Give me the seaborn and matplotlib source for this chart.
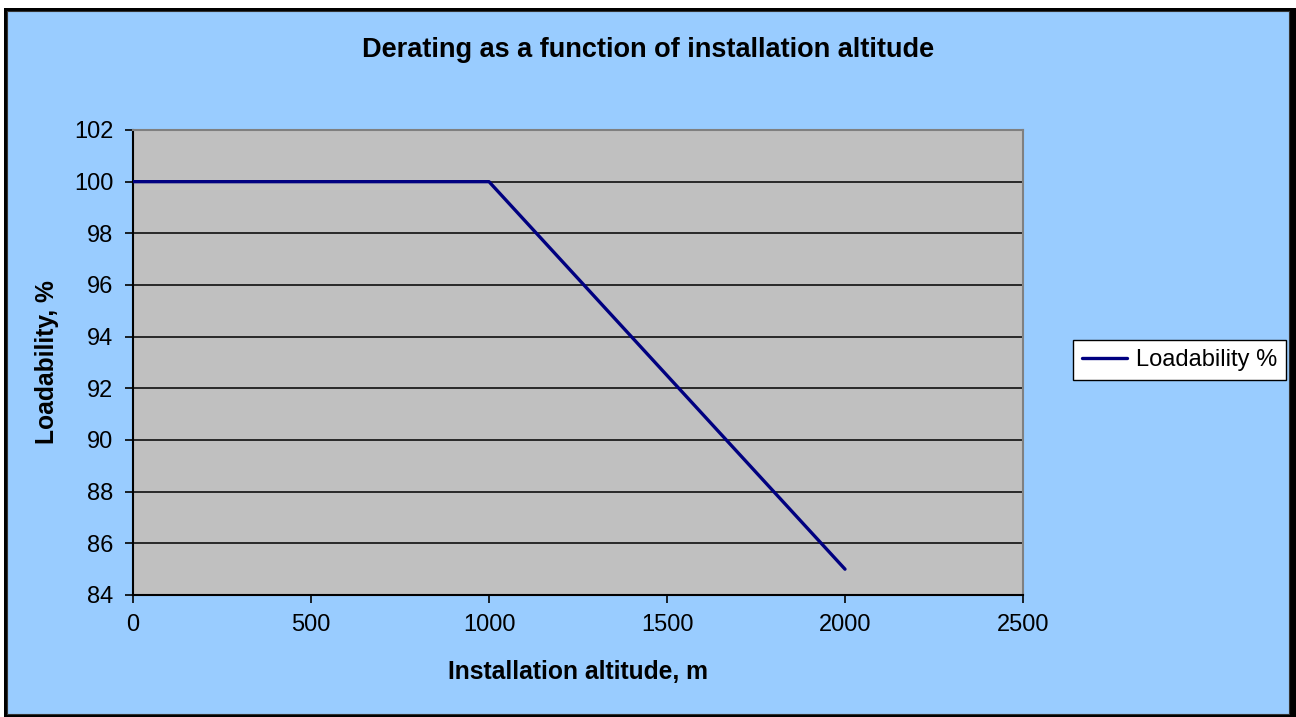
import pandas as pd
import matplotlib.pyplot as plt
import seaborn as sns
from matplotlib.patches import Rectangle

# datos de la curva de derating
altitud = [0, 1000, 2000]
carga = [100, 100, 85]
serie = 'Loadability %'

x_ticks = [0, 500, 1000, 1500, 2000, 2500]
y_ticks = [84, 86, 88, 90, 92, 94, 96, 98, 100, 102]

df = pd.DataFrame({'altitud': altitud, 'carga': carga, 'serie': serie})

sns.set_style('white')
plt.rcParams['font.family'] = ['Liberation Sans', 'DejaVu Sans']
plt.rcParams['text.color'] = 'black'
plt.rcParams['axes.labelcolor'] = 'black'
plt.rcParams['xtick.color'] = 'black'
plt.rcParams['ytick.color'] = 'black'

W, H = 1296, 717
fig = plt.figure(figsize=(12.96, 7.17), dpi=100)
fig.patch.set_facecolor('white')

# marco estilo excel con sombra
fig.patches.append(Rectangle((4 / W, 0), (W - 4) / W, (H - 8) / H,
                             transform=fig.transFigure, facecolor='black',
                             edgecolor='none', zorder=-5))
fig.patches.append(Rectangle((7 / W, 3 / H), 1282 / W, 703 / H,
                             transform=fig.transFigure, facecolor='#99CCFF',
                             edgecolor='#333333', linewidth=0.8, zorder=-4))

ax = fig.add_axes([133 / W, 1 - 595 / H, 890 / W, 465 / H])
ax.set_zorder(1)
ax.set_facecolor('#C0C0C0')

sns.lineplot(data=df, x='altitud', y='carga', hue='serie', palette=['#000080'],
             linewidth=2.4, ax=ax, legend=False, zorder=3)

ax.set_xlim(0, 2500)
ax.set_ylim(84, 102)
ax.set_xticks(x_ticks)
ax.set_yticks(y_ticks)
ax.tick_params(axis='both', labelsize=17, direction='out', length=6, width=1.2,
               color='black', pad=8, bottom=True, left=True)
ax.yaxis.grid(True, color='black', linewidth=1.1)
ax.set_axisbelow(True)

for lado in ['left', 'bottom']:
    ax.spines[lado].set_color('black')
    ax.spines[lado].set_linewidth(1.5)
for lado in ['top', 'right']:
    ax.spines[lado].set_color('#808080')
    ax.spines[lado].set_linewidth(1.5)

ax.set_xlabel('Installation altitude, m', fontsize=17.7, fontweight='bold')
ax.set_ylabel('Loadability, %', fontsize=17.7, fontweight='bold')
ax.xaxis.set_label_coords(0.5, -0.14)
ax.yaxis.set_label_coords(-0.083, 0.5)

fig.text(0.5, 1 - 50 / H, 'Derating as a function of installation altitude',
         ha='center', va='center', fontsize=19.5, fontweight='bold')

h = [plt.Line2D([], [], color='#000080', linewidth=2.4)]
leg = fig.legend(h, [serie], loc='center left',
                 bbox_to_anchor=(1073 / W, 1 - 360 / H), fontsize=17,
                 frameon=True, fancybox=False, framealpha=1, edgecolor='black',
                 handlelength=1.9, handletextpad=0.35, borderpad=0.4,
                 borderaxespad=0)
leg.get_frame().set_linewidth(1.0)

fig.savefig('out.png', dpi=100)
